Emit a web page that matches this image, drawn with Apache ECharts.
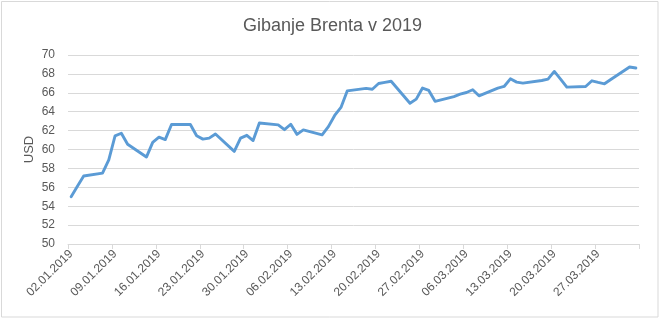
<!DOCTYPE html>
<html>
<head>
<meta charset="utf-8">
<script src="https://cdn.jsdelivr.net/npm/echarts@6/dist/echarts.min.js"></script>
<style>
html,body{margin:0;padding:0;background:#fff;}
#c{width:665px;height:319px;}
</style>
</head>
<body>
<div id="c"></div>
<script>
// Trading days and Brent prices (USD)
var tradingDates = [
  "02.01.2019","03.01.2019","04.01.2019","07.01.2019","08.01.2019","09.01.2019","10.01.2019","11.01.2019",
  "14.01.2019","15.01.2019","16.01.2019","17.01.2019","18.01.2019","21.01.2019","22.01.2019","23.01.2019",
  "24.01.2019","25.01.2019","28.01.2019","29.01.2019","30.01.2019","31.01.2019","01.02.2019","04.02.2019",
  "05.02.2019","06.02.2019","07.02.2019","08.02.2019","11.02.2019","12.02.2019","13.02.2019","14.02.2019",
  "15.02.2019","18.02.2019","19.02.2019","20.02.2019","21.02.2019","22.02.2019","25.02.2019","26.02.2019",
  "27.02.2019","28.02.2019","01.03.2019","04.03.2019","05.03.2019","06.03.2019","07.03.2019","08.03.2019",
  "11.03.2019","12.03.2019","13.03.2019","14.03.2019","15.03.2019","18.03.2019","19.03.2019","20.03.2019",
  "21.03.2019","22.03.2019","25.03.2019","26.03.2019","27.03.2019","28.03.2019","29.03.2019","01.04.2019",
  "02.04.2019"
];
var prices = [
  55.0, 56.1, 57.2, 57.5, 58.9, 61.45, 61.72, 60.55,
  59.2, 60.76, 61.3, 61.05, 62.65, 62.65, 61.45, 61.1,
  61.2, 61.64, 59.8, 61.2, 61.5, 60.95, 62.8, 62.6,
  62.1, 62.67, 61.6, 62.07, 61.55, 62.42, 63.6, 64.45,
  66.2, 66.47, 66.38, 66.98, 67.1, 67.22, 64.9, 65.33,
  66.5, 66.25, 65.1, 65.6, 65.85, 66.03, 66.32, 65.68,
  66.5, 66.67, 67.48, 67.13, 67.03, 67.3, 67.45, 68.26,
  67.45, 66.6, 66.67, 67.27, 67.1, 66.95, 67.4, 68.73,
  68.62
];
var startDate = "02.01.2019";
var endDate = "02.04.2019";
var yTicks = [50, 52, 54, 56, 58, 60, 62, 64, 66, 68, 70];

function parseD(s){var p=s.split(".");return new Date(Date.UTC(+p[2],+p[1]-1,+p[0]));}
function fmt(d){function z(n){return (n<10?"0":"")+n;}return z(d.getUTCDate())+"."+z(d.getUTCMonth()+1)+"."+d.getUTCFullYear();}

// all calendar days on the axis
var categories = [];
for (var d = parseD(startDate); d <= parseD(endDate); d = new Date(d.getTime()+86400000)) {
  categories.push(fmt(d));
}
var priceMap = {};
tradingDates.forEach(function(t,i){priceMap[t]=prices[i];});
var seriesData = categories.map(function(c){return priceMap.hasOwnProperty(c)?priceMap[c]:null;});

var chart = echarts.init(document.getElementById('c'), null, {renderer:'canvas'});
var font = "'Liberation Sans', Arial, sans-serif";
chart.setOption({
  animation:false,
  backgroundColor:'#ffffff',
  title:{
    text:'Gibanje Brenta v 2019',
    left:'center', top:12,
    textStyle:{fontFamily:font, fontSize:18, fontWeight:'normal', color:'#595959'}
  },
  graphic:[{
    type:'rect', silent:true, z:-1,
    shape:{x:1.5, y:1.5, width:656.5, height:315.5},
    style:{fill:'none', stroke:'#d9d9d9', lineWidth:1}
  }],
  grid:{left:68, right:26, top:55, bottom:75, containLabel:false},
  xAxis:{
    type:'category',
    data:categories,
    boundaryGap:true,
    axisLine:{show:true, lineStyle:{color:'#d9d9d9', width:1}},
    axisTick:{show:true, interval:6, length:5, lineStyle:{color:'#d9d9d9'}},
    axisLabel:{interval:6, rotate:45, margin:8, color:'#595959', fontFamily:font, fontSize:12},
    splitLine:{show:false}
  },
  yAxis:{
    type:'value',
    min:yTicks[0], max:yTicks[yTicks.length-1], interval:2,
    name:'USD', nameLocation:'middle', nameGap:32, nameRotate:90,
    nameMoveOverlap:false,
    nameTextStyle:{fontFamily:font, fontSize:13, color:'#595959'},
    axisLine:{show:false}, axisTick:{show:false},
    axisLabel:{color:'#595959', fontFamily:font, fontSize:12, margin:13},
    splitLine:{lineStyle:{color:'#d9d9d9', width:1}}
  },
  series:[{
    type:'line',
    data:seriesData,
    connectNulls:true,
    showSymbol:false,
    symbol:'none',
    lineStyle:{color:'#5b9bd5', width:2.9, join:'round', cap:'round'},
    itemStyle:{color:'#5b9bd5'}
  }]
});
</script>
</body>
</html>
